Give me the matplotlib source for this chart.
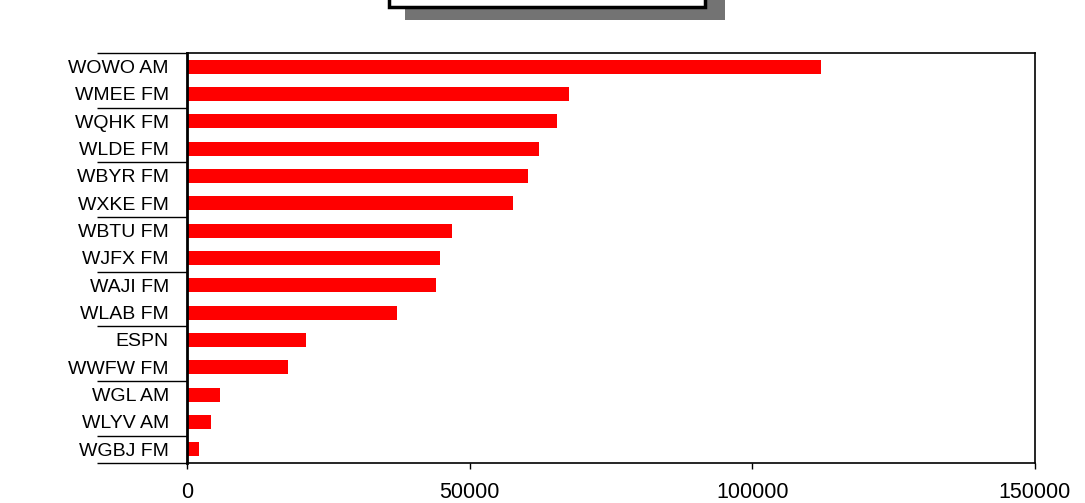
import matplotlib.pyplot as plt
import numpy as np
from matplotlib.patches import Rectangle

stations = ["WOWO AM", "WMEE FM", "WQHK FM", "WLDE FM", "WBYR FM", "WXKE FM",
            "WBTU FM", "WJFX FM", "WAJI FM", "WLAB FM", "ESPN", "WWFW FM",
            "WGL AM", "WLYV AM", "WGBJ FM"]
listeners = [112200, 67500, 65400, 62300, 60400, 57700,
             46800, 44700, 44100, 37100, 21100, 17800,
             5900, 4300, 2200]
xticks = [0, 50000, 100000, 150000]

plt.rcParams['font.family'] = ['Liberation Sans', 'DejaVu Sans']

fig = plt.figure(figsize=(10.85, 5.03), dpi=100)
ax = fig.add_axes([187/1085, 1-463/503, (1035-187)/1085, (463-53)/503])

y = np.arange(len(stations))
ax.barh(y, listeners, height=0.52, color="#ff0000")
ax.set_ylim(len(stations)-0.5, -0.5)
ax.set_xlim(0, 150000)

ax.set_yticks(y)
ax.set_yticklabels(stations, fontsize=14)
ax.tick_params(axis="y", which="major", length=0, pad=13)
ax.set_yticks(np.r_[np.arange(-0.5, len(stations)-1, 2), len(stations)-0.5], minor=True)
ax.tick_params(axis="y", which="minor", length=65, width=1, direction="out")

ax.set_xticks(xticks)
ax.set_xticklabels([str(v) for v in xticks], fontsize=15.5)
ax.tick_params(axis="x", length=4, width=1, pad=10)

for s in ["top", "right", "bottom"]:
    ax.spines[s].set_linewidth(1.2)
ax.spines["left"].set_linewidth(2)

# title box (cut off at top) with shadow
fig.patches.append(Rectangle((405/1085, 1-20/503), 320/1085, 0.2,
                             transform=fig.transFigure, facecolor="#737373",
                             edgecolor="none", zorder=1))
fig.patches.append(Rectangle((389/1085, 1-7/503), 316/1085, 0.2,
                             transform=fig.transFigure, facecolor="white",
                             edgecolor="black", linewidth=2.5, zorder=2))

fig.savefig("out.png", dpi=100)
